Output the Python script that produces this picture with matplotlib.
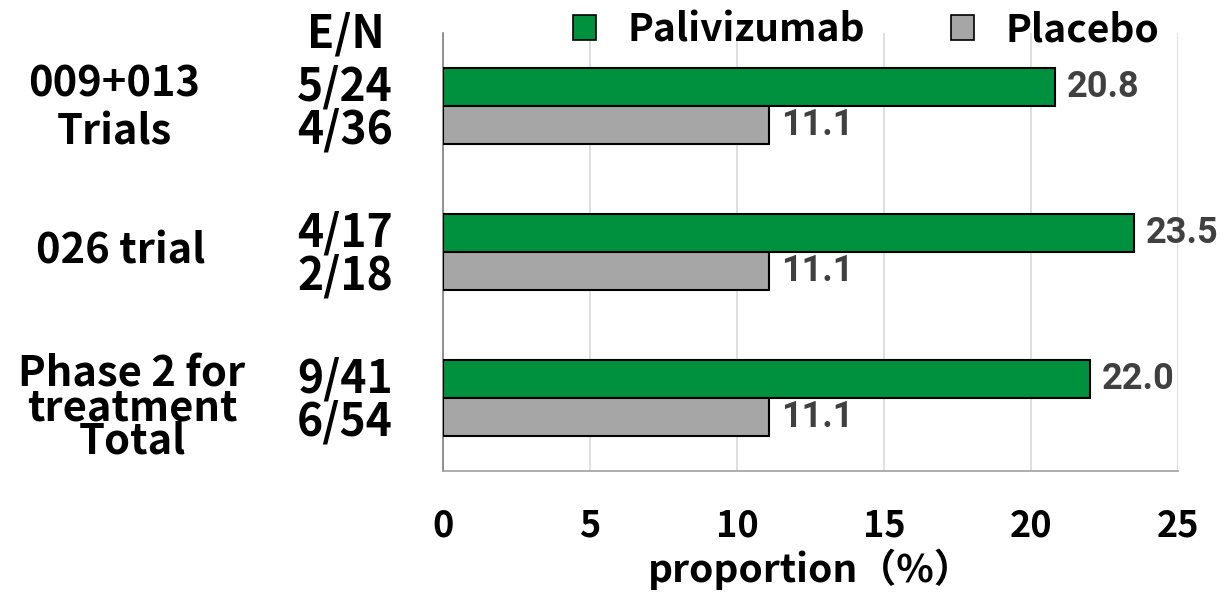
import numpy as np
import matplotlib

matplotlib.use("Agg")
import matplotlib.pyplot as plt
from matplotlib import transforms
from matplotlib.patches import Patch

plt.rcParams["font.family"] = ["Noto Sans CJK JP", "DejaVu Sans"]

groups = ["009+013\nTrials", "026 trial", "Phase 2 for\ntreatment\nTotal"]
palivizumab = [20.8, 23.5, 22.0]
placebo = [11.1, 11.1, 11.1]
en_pal = ["5/24", "4/17", "9/41"]
en_pla = ["4/36", "2/18", "6/54"]
xticks = [0, 5, 10, 15, 20, 25]

GREEN = "#00913f"
GREY = "#a6a6a6"
LABEL_GREY = "#404040"

fig = plt.figure(figsize=(12.25, 5.93), dpi=100)
ax = fig.add_axes([443 / 1225, 1 - 471 / 593, 735 / 1225, 438 / 593])

y = np.arange(len(groups))
h = 0.26
ax.barh(y - h / 2, palivizumab, height=h, color=GREEN, edgecolor="black", linewidth=1.5, zorder=3)
ax.barh(y + h / 2, placebo, height=h, color=GREY, edgecolor="black", linewidth=1.5, zorder=3)

val_font = dict(fontsize=26, fontweight="bold", color=LABEL_GREY, family=["Roboto", "DejaVu Sans"])
for yi, v in zip(y - h / 2, palivizumab):
    ax.text(v + 0.4, yi, f"{v:.1f}", va="center", ha="left", **val_font)
for yi, v in zip(y + h / 2, placebo):
    ax.text(v + 0.4, yi, f"{v:.1f}", va="center", ha="left", **val_font)

ax.set_xlim(0, 25)
ax.set_ylim(2.5, -0.5)
ax.set_xticks(xticks)
ax.set_xticklabels([str(t) for t in xticks], fontsize=26, fontweight="bold")
ax.tick_params(axis="x", length=0, pad=26)
ax.set_yticks([])
ax.grid(axis="x", color="#d9d9d9", linewidth=1.2, zorder=0)
for side in ("top", "right"):
    ax.spines[side].set_visible(False)
ax.spines["left"].set_color("#808080")
ax.spines["bottom"].set_color("#a0a0a0")
ax.spines["left"].set_linewidth(1.2)
ax.spines["bottom"].set_linewidth(1.2)
ax.set_xlabel("proportion（%）", fontsize=28, fontweight="bold", labelpad=3)

# group names and E/N counts to the left of the axes
blend = transforms.blended_transform_factory(fig.transFigure, ax.transData)
name_x = [114, 121, 132]
name_dy = [0.02, 0.0, 0.07]
name_spacing = [1.18, 1.0, 0.75]
for yi, name, nx, dy, ls in zip(y, groups, name_x, name_dy, name_spacing):
    ax.text(nx / 1225, yi + dy, name, transform=blend, ha="center", va="center",
            fontsize=30, fontweight="bold", linespacing=ls)
for yi, a, b in zip(y, en_pal, en_pla):
    ax.text(345 / 1225, yi - h / 2, a, transform=blend, ha="center", va="center",
            fontsize=32, fontweight="bold")
    ax.text(345 / 1225, yi + h / 2 + 0.04, b, transform=blend, ha="center", va="center",
            fontsize=32, fontweight="bold")
fig.text(346 / 1225, 1 - 34 / 593, "E/N", ha="center", va="center", fontsize=32, fontweight="bold")

handles = [Patch(facecolor=GREEN, edgecolor="black", linewidth=1.2),
           Patch(facecolor=GREY, edgecolor="black", linewidth=1.2)]
fig.legend(handles, ["Palivizumab", "Placebo"], loc="center", bbox_to_anchor=(866 / 1225, 1 - 30 / 593),
           ncol=2, frameon=False, prop={"size": 28, "weight": "bold"},
           handlelength=0.6, handleheight=0.6, handletextpad=0.8, columnspacing=2.2)

fig.savefig("out.png", dpi=100, facecolor="white")
